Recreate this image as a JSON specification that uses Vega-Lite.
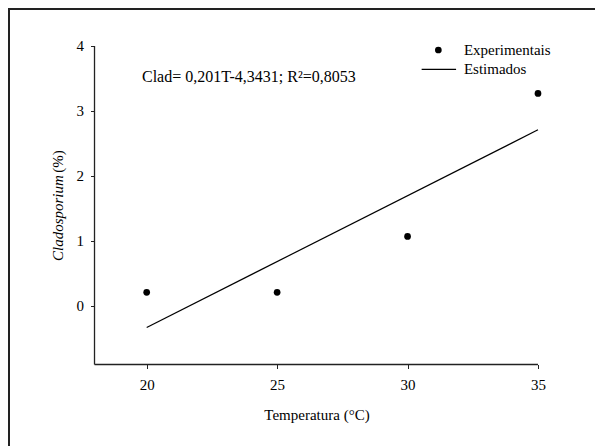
{
  "$schema": "https://vega.github.io/schema/vega-lite/v6.json",
  "autosize": "none",
  "padding": {"left": 9, "top": 9, "right": 0, "bottom": 0},
  "width": 600,
  "height": 450,
  "background": "white",
  "config": {
    "view": {"stroke": "#222", "strokeWidth": 2},
    "font": "Liberation Serif",
    "axis": {"grid": false, "domain": false, "labelFont": "Liberation Serif", "labelFontSize": 15, "labelColor": "black", "tickColor": "#222", "tickSize": 4, "tickWidth": 1, "labelPadding": 7}
  },
  "datasets": {
    "obs": [
      {"temp": 20, "clad": 0.21},
      {"temp": 25, "clad": 0.21},
      {"temp": 30, "clad": 1.07},
      {"temp": 35, "clad": 3.27}
    ],
    "fit": [
      {"temp": 20, "clad": -0.33},
      {"temp": 35, "clad": 2.71}
    ],
    "one": [{}]
  },
  "layer": [
    {
      "data": {"name": "obs"},
      "mark": {"type": "point", "filled": true, "color": "black", "size": 45, "opacity": 1},
      "encoding": {
        "x": {"field": "temp", "type": "quantitative", "scale": {"domain": [14.722, 37.722], "nice": false, "zero": false},
          "axis": {"values": [20, 25, 30, 35], "format": "d", "orient": "bottom", "offset": -94.5, "labelPadding": 9, "title": "Temperatura (°C)", "titleFont": "Liberation Serif", "titleFontSize": 15, "titleFontWeight": "normal", "titleColor": "black", "titleX": 307.5, "titleY": 50, "titleBaseline": "middle", "titleAnchor": null}},
        "y": {"field": "clad", "type": "quantitative", "scale": {"domain": [-2.354, 4.569], "nice": false, "zero": false},
          "axis": {"values": [0, 1, 2, 3, 4], "format": "d", "orient": "left", "offset": -85.5, "title": null}}
      }
    },
    {
      "data": {"name": "fit"},
      "mark": {"type": "line", "color": "black", "strokeWidth": 1.2},
      "encoding": {
        "x": {"field": "temp", "type": "quantitative"},
        "y": {"field": "clad", "type": "quantitative"}
      }
    },
    {
      "data": {"name": "one"},
      "mark": {"type": "rule", "color": "#222", "strokeWidth": 1.3},
      "encoding": {"x": {"datum": 18}, "x2": {"datum": 35}, "y": {"datum": -0.9}}
    },
    {
      "data": {"name": "one"},
      "mark": {"type": "rule", "color": "#222", "strokeWidth": 1.3},
      "encoding": {"x": {"datum": 18}, "y": {"datum": -0.9}, "y2": {"datum": 4}}
    },
    {
      "data": {"name": "one"},
      "mark": {"type": "text", "align": "left", "baseline": "middle", "font": "Liberation Serif", "fontSize": 16, "color": "black"},
      "encoding": {"x": {"datum": 19.82}, "y": {"datum": 3.528}, "text": {"value": "Clad= 0,201T-4,3431; R²=0,8053"}}
    },
    {
      "data": {"name": "one"},
      "mark": {"type": "point", "filled": true, "color": "black", "size": 45, "opacity": 1},
      "encoding": {"x": {"datum": 31.18}, "y": {"datum": 3.938}}
    },
    {
      "data": {"name": "one"},
      "mark": {"type": "rule", "color": "black", "strokeWidth": 1.2},
      "encoding": {"x": {"datum": 30.54}, "x2": {"datum": 31.86}, "y": {"datum": 3.641}}
    },
    {
      "data": {"name": "one"},
      "mark": {"type": "text", "align": "left", "baseline": "middle", "font": "Liberation Serif", "fontSize": 15, "color": "black"},
      "encoding": {"x": {"datum": 32.16}, "y": {"datum": 3.938}, "text": {"value": "Experimentais"}}
    },
    {
      "data": {"name": "one"},
      "mark": {"type": "text", "align": "left", "baseline": "middle", "font": "Liberation Serif", "fontSize": 15, "color": "black"},
      "encoding": {"x": {"datum": 32.16}, "y": {"datum": 3.641}, "text": {"value": "Estimados"}}
    },
    {
      "data": {"name": "one"},
      "mark": {"type": "text", "align": "left", "baseline": "middle", "angle": 270, "font": "Liberation Serif", "fontSize": 15, "fontStyle": "italic", "color": "black"},
      "encoding": {"x": {"datum": 16.59}, "y": {"datum": 0.692}, "text": {"value": "Cladosporium"}}
    },
    {
      "data": {"name": "one"},
      "mark": {"type": "text", "align": "left", "baseline": "middle", "angle": 270, "font": "Liberation Serif", "fontSize": 15, "color": "black"},
      "encoding": {"x": {"datum": 16.59}, "y": {"datum": 2.05}, "text": {"value": "(%)"}}
    }
  ]
}
